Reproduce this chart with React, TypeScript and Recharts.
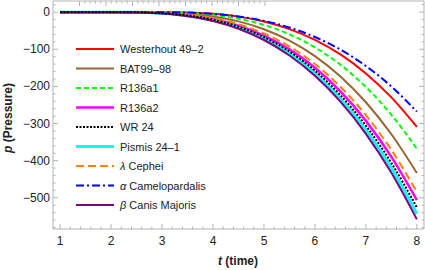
import React from 'react';
import { LineChart, Line, XAxis, YAxis } from 'recharts';

// time axis samples
const tValues = [1, 1.5, 2, 2.5, 3, 3.5, 4, 4.5, 5, 5.5, 6, 6.5, 7, 7.5, 8];

// pressure
const westerhout = [0, 0, 0, 0, -0.1, -1.1, -4.6, -12.1, -25.2, -45.6, -74.6, -113.9, -165, -229.6, -309];
const bat99 = [0, 0, 0, 0, -0.8, -4, -11.5, -24.9, -46, -76.6, -118.4, -173.2, -242.7, -328.8, -433];
const r136a1 = [0, 0, 0, 0, -0.3, -2.2, -7.5, -17.7, -34.6, -59.7, -94.8, -141.6, -201.6, -276.5, -368];
const r136a2 = [0, 0, 0, -0.3, -2.3, -7.9, -18.7, -36.6, -63.3, -100.4, -149.9, -213.5, -292.8, -389.7, -506];
const wr24 = [0, 0, 0, -0.4, -2.8, -8.8, -20.5, -39.4, -67.4, -106.3, -157.8, -223.8, -305.9, -406.1, -526];
const pismis = [0, 0, 0, -0.5, -3.2, -9.8, -22.2, -42, -71.3, -111.6, -164.9, -232.8, -317.4, -420.1, -543];
const lambdaCephei = [0, 0, 0, -0.2, -1.7, -6.5, -16.2, -32.6, -57.5, -92.6, -139.8, -200.8, -277.3, -371.1, -484];
const alphaCam = [0, 0, 0, 0, -0.1, -1.2, -4.7, -11.7, -23.5, -41.5, -67, -101, -145, -200.2, -268];
const betaCMa = [0, 0, 0, -0.7, -3.6, -10.8, -23.8, -44.6, -75, -116.7, -171.5, -241.2, -327.7, -432.7, -558];

const seriesNames = [
  'Westerhout 49–2',
  'BAT99–98',
  'R136a1',
  'R136a2',
  'WR 24',
  'Pismis 24–1',
  'λ Cephei',
  'α Camelopardalis',
  'β Canis Majoris',
];

const xMajorTicks = [1, 2, 3, 4, 5, 6, 7, 8];
const yMajorTicks = [0, -100, -200, -300, -400, -500];

// minor ticks every 0.2 in t and every 20 in p
const xTicks: number[] = [];
for (let i = 0; i <= 35; i++) xTicks.push(Math.round((1 + i * 0.2) * 10) / 10);
const yTicks: number[] = [];
for (let v = 20; v >= -580; v -= 20) yTicks.push(v);

const allValues = [westerhout, bat99, r136a1, r136a2, wr24, pismis, lambdaCephei, alphaCam, betaCMa];
const keys = ['s0', 's1', 's2', 's3', 's4', 's5', 's6', 's7', 's8'];

const styles = [
  { color: '#ff0000', width: 2, dash: undefined },
  { color: '#996633', width: 2, dash: undefined },
  { color: '#00ff00', width: 2, dash: '5 3' },
  { color: '#ff00ff', width: 2.5, dash: undefined },
  { color: '#000000', width: 2, dash: '2 1.5' },
  { color: '#00ffff', width: 3, dash: undefined },
  { color: '#ff8000', width: 2, dash: '8 4' },
  { color: '#0000ff', width: 2, dash: '8 3 2 3' },
  { color: '#800080', width: 2, dash: undefined },
];

// draw black dotted on top of the cyan one
const drawOrder = [0, 1, 2, 3, 5, 6, 7, 8, 4];

const data = tValues.map((t, i) => {
  const row: any = { t };
  allValues.forEach((arr, k) => (row[keys[k]] = arr[i]));
  return row;
});

const frameColor = '#b3b3b3';
const textColor = '#222';
const font = '"Liberation Sans", Arial, sans-serif';

const isMajor = (v: number, step: number) => Math.abs(v / step - Math.round(v / step)) < 1e-6;

const BottomTick = (props: any) => {
  const { x, y, payload } = props;
  const major = isMajor(payload.value, 1);
  return (
    <g>
      <line x1={x} x2={x} y1={y} y2={y - (major ? 5 : 2.5)} stroke={frameColor} />
      {major && (
        <text x={x} y={y + 16} textAnchor="middle" fontSize={12} fill={textColor} fontFamily={font}>
          {payload.value}
        </text>
      )}
    </g>
  );
};

const TopTick = (props: any) => {
  const { x, y, payload } = props;
  const major = isMajor(payload.value, 1);
  return <line x1={x} x2={x} y1={y} y2={y + (major ? 5 : 2.5)} stroke={frameColor} />;
};

const LeftTick = (props: any) => {
  const { x, y, payload } = props;
  const major = isMajor(payload.value, 100);
  const v = payload.value;
  return (
    <g>
      <line x1={x} x2={x + (major ? 5 : 2.5)} y1={y} y2={y} stroke={frameColor} />
      {major && (
        <text x={x - 3} y={y + 4} textAnchor="end" fontSize={12} fill={textColor} fontFamily={font}>
          {v < 0 ? `−${Math.abs(v)}` : v}
        </text>
      )}
    </g>
  );
};

const RightTick = (props: any) => {
  const { x, y, payload } = props;
  const major = isMajor(payload.value, 100);
  return <line x1={x} x2={x - (major ? 5 : 2.5)} y1={y} y2={y} stroke={frameColor} />;
};

const XLabel = () => (
  <text x={238} y={265} textAnchor="middle" fontSize={12} fontWeight="bold" fill={textColor} fontFamily={font}>
    <tspan fontStyle="italic">t</tspan> (time)
  </text>
);

const YLabel = () => (
  <text
    x={12}
    y={118}
    transform="rotate(-90 12 118)"
    textAnchor="middle"
    fontSize={12}
    fontWeight="bold"
    fill={textColor}
    fontFamily={font}
  >
    <tspan fontStyle="italic">p</tspan> (Pressure)
  </text>
);

const LegendBox = () => (
  <svg
    width={220}
    height={230}
    style={{ position: 'absolute', left: 0, top: 0, pointerEvents: 'none' }}
  >
    {seriesNames.map((name, i) => {
      const y = 49 + i * 19.5;
      const st = styles[i];
      const greek = /^[αβλ] /.test(name);
      return (
        <g key={name}>
          <line x1={76} x2={114} y1={y} y2={y} stroke={st.color} strokeWidth={st.width} strokeDasharray={st.dash} />
          <text x={120} y={y + 4} fontSize={11} fill={textColor} fontFamily={font}>
            {greek ? (
              <>
                <tspan fontStyle="italic">{name[0]}</tspan>
                {name.slice(1)}
              </>
            ) : (
              name
            )}
          </text>
        </g>
      );
    })}
  </svg>
);

export default function App() {
  return (
    <div style={{ position: 'absolute', left: 0, top: 0, width: 425, height: 270, background: '#fff' }}>
      <LineChart width={425} height={270} data={data} margin={{ top: 0, right: 0, bottom: 0, left: 0 }}>
        <XAxis
          dataKey="t"
          type="number"
          domain={[0.86, 8.14]}
          allowDataOverflow
          ticks={xTicks}
          interval={0}
          height={41}
          tickSize={0}
          tickMargin={0}
          tickLine={false}
          axisLine={{ stroke: frameColor }}
          tick={<BottomTick />}
          label={<XLabel />}
        />
        <XAxis
          xAxisId="top"
          orientation="top"
          type="number"
          domain={[0.86, 8.14]}
          allowDataOverflow
          ticks={xTicks}
          interval={0}
          height={1}
          tickSize={0}
          tickMargin={0}
          tickLine={false}
          axisLine={{ stroke: frameColor }}
          tick={<TopTick />}
        />
        <YAxis
          type="number"
          domain={[-584, 30]}
          allowDataOverflow
          ticks={yTicks}
          interval={0}
          width={53}
          tickSize={0}
          tickMargin={0}
          tickLine={false}
          axisLine={{ stroke: frameColor }}
          tick={<LeftTick />}
          label={<YLabel />}
        />
        <YAxis
          yAxisId="right"
          orientation="right"
          type="number"
          domain={[-584, 30]}
          allowDataOverflow
          ticks={yTicks}
          interval={0}
          width={1}
          tickSize={0}
          tickMargin={0}
          tickLine={false}
          axisLine={{ stroke: frameColor }}
          tick={<RightTick />}
        />
        {drawOrder.map((k) => (
          <Line
            key={keys[k]}
            dataKey={keys[k]}
            name={seriesNames[k]}
            type="monotone"
            stroke={styles[k].color}
            strokeWidth={styles[k].width}
            strokeDasharray={styles[k].dash}
            dot={false}
            isAnimationActive={false}
          />
        ))}
      </LineChart>
      <LegendBox />
    </div>
  );
}
